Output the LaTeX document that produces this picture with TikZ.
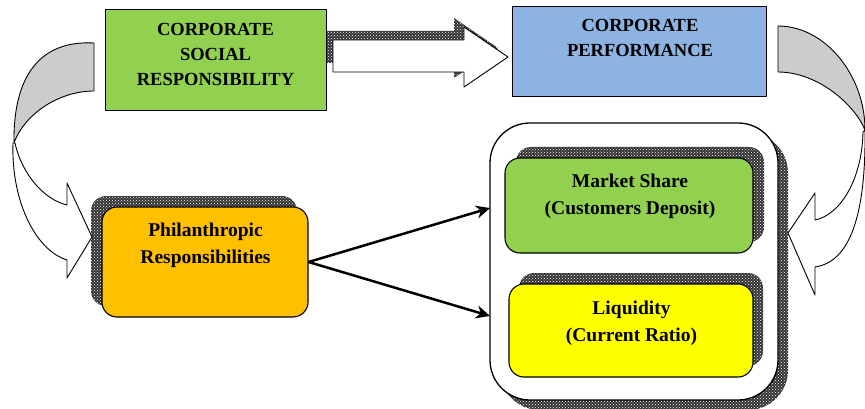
\documentclass[tikz,border=0pt]{standalone}
\usepackage{fontspec}
\setmainfont{Liberation Serif}
\usetikzlibrary{arrows.meta,patterns}

\definecolor{csrgreen}{RGB}{146,208,80}
\definecolor{perfblue}{RGB}{141,179,226}
\definecolor{philorange}{RGB}{255,192,0}
\definecolor{liqyellow}{RGB}{255,255,0}
\definecolor{backgray}{RGB}{204,204,204}

\begin{document}
\begin{tikzpicture}[x=1pt,y=-1pt,line join=round]
  \tikzset{every node/.style={inner sep=0pt},
    box/.style={draw,line width=0.9pt},
    rbox/.style={draw,line width=1.1pt,rounded corners=15pt},
    dotshadow/.style={fill=black!80,postaction={pattern=crosshatch dots,pattern color=white}},
    capstext/.style={font=\fontsize{18.5}{25}\selectfont\bfseries,align=center},
    mixtext/.style={font=\fontsize{19.5}{27}\selectfont\bfseries,align=center},
    backpart/.style={draw,line width=0.9pt,fill=backgray},
    frontpart/.style={draw,line width=0.9pt,fill=white},
    link/.style={-{Stealth[length=14pt,width=13pt]},line width=2.5pt}}
  \useasboundingbox (0,0) rectangle (865,409);

  % shadow of the block arrow on top
  \fill[dotshadow] (323,31) -- (454,31) -- (454,18) -- (498,48) -- (454,78) -- (454,63) -- (323,63) -- cycle;

  % top row
  \node[box,fill=csrgreen,minimum width=221pt,minimum height=101pt] (csr) at (215.5,59.5) {};
  \node[capstext] (csr text) at (215.5,54) {CORPORATE\\SOCIAL\\RESPONSIBILITY};
  \node[box,fill=perfblue,minimum width=254pt,minimum height=90pt] (perf) at (639,51) {};
  \node[capstext] (perf text) at (640,38) {CORPORATE\\PERFORMANCE};
  \draw[frontpart] (333,40) -- (464,40) -- (464,27) -- (508,57) -- (464,87) -- (464,72) -- (333,72) -- cycle;

  % philanthropic box with its shadow
  \node[rbox,dotshadow,draw=none,minimum width=206pt,minimum height=110pt] (phil shadow) at (194,251) {};
  \node[rbox,fill=philorange,minimum width=206pt,minimum height=110pt] (phil) at (205,262) {};
  \node[mixtext] (phil text) at (205.5,245.5) {Philanthropic\\Responsibilities};

  % left curved arrow
  \draw[backpart] (94,43) .. controls (40,40) and (13,76) .. (14,143)
    .. controls (25,113) and (60,91) .. (94,91) -- cycle;
  \draw[frontpart] (15,143) .. controls (22,175) and (45,200) .. (67,205)
    -- (67,183) -- (92,237) -- (67,278) -- (67,260)
    .. controls (35,250) and (11,200) .. (13,143) -- cycle;

  % performance indicators
  \node[rbox,dotshadow,draw=none,rounded corners=40pt,minimum width=288pt,minimum height=277pt] (ind shadow) at (644,271.5) {};
  \node[rbox,fill=white,line width=1.3pt,rounded corners=40pt,minimum width=288pt,minimum height=277pt] (ind) at (634,261.5) {};
  \node[rbox,dotshadow,draw=none,minimum width=248pt,minimum height=95pt] (share shadow) at (640,194.5) {};
  \node[rbox,fill=csrgreen,minimum width=248pt,minimum height=95pt] (share) at (629,205.5) {};
  \node[mixtext] (share text) at (630,196) {Market Share\\(Customers Deposit)};
  \node[rbox,dotshadow,draw=none,minimum width=244pt,minimum height=93pt] (liq shadow) at (641,319.5) {};
  \node[rbox,fill=liqyellow,minimum width=244pt,minimum height=93pt] (liq) at (631,330.5) {};
  \node[mixtext] (liq text) at (631.5,323) {Liquidity\\(Current Ratio)};

  % right curved arrow
  \draw[backpart] (778,26) .. controls (825,26) and (865,75) .. (865,130)
    .. controls (855,105) and (818,72) .. (778,72) -- cycle;
  \draw[frontpart] (863,132) .. controls (862,180) and (840,215) .. (815,220)
    -- (815,193) -- (788,233) -- (815,295) -- (815,267)
    .. controls (850,262) and (866,215) .. (865,130) -- cycle;

  % links into the indicators
  \coordinate (share in) at (490,208);
  \coordinate (liq in) at (490,316);
  \draw[link] (phil.east) -- (share in);
  \draw[link] (phil.east) -- (liq in);
\end{tikzpicture}
\end{document}
